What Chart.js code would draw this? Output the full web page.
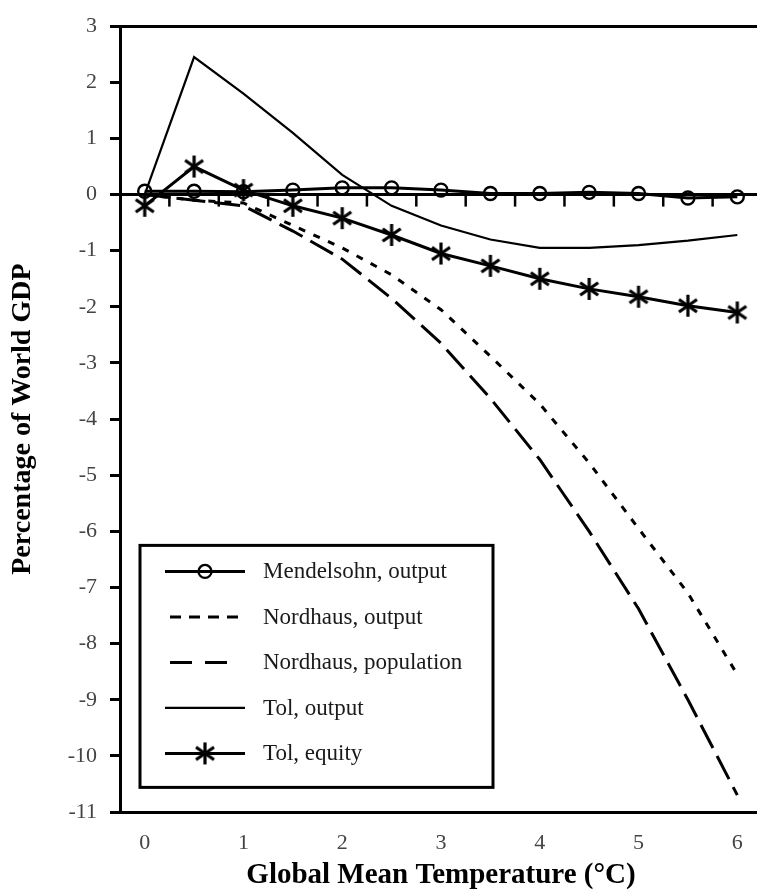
<!DOCTYPE html>
<html>
<head>
<meta charset="utf-8">
<script src="https://cdn.jsdelivr.net/npm/chart.js@4/dist/chart.umd.min.js"></script>
<style>
  html, body { margin: 0; padding: 0; background: #fff; overflow: hidden; }
  #wrap { width: 776px; height: 894px; }
</style>
</head>
<body>
<div id="wrap"><canvas id="c" width="776" height="894"></canvas></div>
<script>
// Warming levels (°C), one category every half degree
const temperatures = [0, 0.5, 1, 1.5, 2, 2.5, 3, 3.5, 4, 4.5, 5, 5.5, 6];

// Impact estimates, percentage of world GDP
const mendelsohnOutput = [0.06, 0.06, 0.05, 0.08, 0.12, 0.12, 0.08, 0.02, 0.02, 0.04, 0.02, -0.06, -0.04];
const nordhausOutput   = [0, -0.1, -0.15, -0.55, -0.95, -1.43, -2.05, -2.88, -3.73, -4.78, -5.95, -7.1, -8.55];
const nordhausPop      = [0, -0.1, -0.2, -0.65, -1.15, -1.85, -2.65, -3.63, -4.72, -6.0, -7.38, -9.0, -10.7];
const tolOutput        = [0, 2.45, 1.8, 1.1, 0.35, -0.2, -0.55, -0.8, -0.95, -0.95, -0.9, -0.82, -0.72];
const tolEquity        = [-0.2, 0.5, 0.08, -0.2, -0.42, -0.72, -1.05, -1.27, -1.5, -1.68, -1.82, -1.98, -2.1];

const seriesNames = ['Mendelsohn, output', 'Nordhaus, output', 'Nordhaus, population', 'Tol, output', 'Tol, equity'];
const yTicks = { min: -11, max: 3, step: 1 };

const SERIF = "'Liberation Serif', 'DejaVu Serif', serif";

// six-armed asterisk marker
function makeAsterisk(r, lw) {
  const s = Math.ceil(2 * r + lw + 2);
  const c = document.createElement('canvas');
  c.width = s; c.height = s;
  const g = c.getContext('2d');
  g.strokeStyle = '#000';
  g.lineWidth = lw;
  const cx = s / 2, cy = s / 2;
  [90, 35, 145].forEach(a => {
    const t = a * Math.PI / 180;
    g.beginPath();
    g.moveTo(cx - r * Math.cos(t), cy - r * Math.sin(t));
    g.lineTo(cx + r * Math.cos(t), cy + r * Math.sin(t));
    g.stroke();
  });
  return c;
}
const asterisk = makeAsterisk(11, 3.2);

const datasets = [
  {
    label: seriesNames[0], data: mendelsohnOutput,
    borderColor: '#000', borderWidth: 3,
    pointStyle: 'circle', pointRadius: 6.5, pointBorderWidth: 2.4,
    pointBorderColor: '#000', pointBackgroundColor: 'rgba(0,0,0,0)'
  },
  {
    label: seriesNames[1], data: nordhausOutput,
    borderColor: '#000', borderWidth: 3, borderDash: [7, 9], pointRadius: 0
  },
  {
    label: seriesNames[2], data: nordhausPop,
    borderColor: '#000', borderWidth: 3, borderDash: [26, 9], pointRadius: 0
  },
  {
    label: seriesNames[3], data: tolOutput,
    borderColor: '#000', borderWidth: 2.2, pointRadius: 0
  },
  {
    label: seriesNames[4], data: tolEquity,
    borderColor: '#000', borderWidth: 3,
    pointStyle: asterisk, pointRadius: 11
  }
];

// tick marks hanging below the zero line, between categories
const zeroAxisTicks = {
  id: 'zeroAxisTicks',
  beforeDatasetsDraw(chart) {
    const { ctx, scales: { x, y } } = chart;
    const y0 = y.getPixelForValue(0);
    ctx.save();
    ctx.strokeStyle = '#000';
    ctx.lineWidth = 2.5;
    for (let i = 0; i < temperatures.length - 1; i++) {
      const px = (x.getPixelForValue(i) + x.getPixelForValue(i + 1)) / 2;
      ctx.beginPath();
      ctx.moveTo(px, y0);
      ctx.lineTo(px, y0 + 12);
      ctx.stroke();
    }
    ctx.restore();
  }
};

// boxed legend inside the lower-left of the plot
const boxLegend = {
  id: 'boxLegend',
  afterDraw(chart) {
    const { ctx, scales: { x, y } } = chart;
    const left = x.left + 20, top = y.getPixelForValue(-6.25);
    const w = 353, h = 242;
    ctx.save();
    ctx.fillStyle = '#fff';
    ctx.fillRect(left, top, w, h);
    ctx.strokeStyle = '#000';
    ctx.lineWidth = 3;
    ctx.strokeRect(left, top, w, h);
    ctx.font = '23px ' + SERIF;
    ctx.textBaseline = 'middle';
    ctx.textAlign = 'left';
    chart.data.datasets.forEach((ds, i) => {
      const ry = top + 26 + i * 45.5;
      const x1 = left + 25, x2 = left + 105, xm = (x1 + x2) / 2;
      ctx.strokeStyle = '#000';
      ctx.lineWidth = ds.borderWidth;
      ctx.setLineDash(ds.borderDash ? (i === 1 ? [11, 8] : [22, 13]) : []);
      ctx.beginPath();
      ctx.moveTo(x1 + (ds.borderDash ? 5 : 0), ry);
      ctx.lineTo(x2 - (ds.borderDash ? 5 : 0), ry);
      ctx.stroke();
      ctx.setLineDash([]);
      if (ds.pointStyle === 'circle') {
        ctx.lineWidth = ds.pointBorderWidth;
        ctx.beginPath();
        ctx.arc(xm, ry, ds.pointRadius, 0, Math.PI * 2);
        ctx.stroke();
      } else if (ds.pointStyle instanceof HTMLCanvasElement) {
        ctx.drawImage(ds.pointStyle, xm - ds.pointStyle.width / 2, ry - ds.pointStyle.height / 2);
      }
      ctx.fillStyle = '#1a1a1a';
      ctx.fillText(ds.label, left + 123, ry + 1);
    });
    ctx.restore();
  }
};

new Chart(document.getElementById('c'), {
  type: 'line',
  data: { labels: temperatures.map(String), datasets },
  options: {
    responsive: false,
    animation: false,
    devicePixelRatio: 1,
    layout: { padding: { top: 22, right: 0, left: 0, bottom: 0 } },
    plugins: { legend: { display: false }, tooltip: { enabled: false } },
    elements: { line: { tension: 0, borderCapStyle: 'butt' } },
    scales: {
      x: {
        type: 'category',
        offset: true,
        afterFit(s) { s.height = 82; },
        grid: { display: true, drawOnChartArea: false, drawTicks: false, color: 'rgba(0,0,0,0)' },
        border: { display: true, color: '#000', width: 3 },
        ticks: {
          autoSkip: false, maxRotation: 0, padding: 18,
          color: '#444',
          font: { family: SERIF, size: 22 },
          callback(v) {
            const t = temperatures[v];
            return Number.isInteger(t) ? String(t) : '';
          }
        },
        title: {
          display: true, text: 'Global Mean Temperature (°C)',
          color: '#000', font: { family: SERIF, size: 29, weight: 'bold' },
          padding: { top: 2, bottom: 1 }
        }
      },
      y: {
        min: yTicks.min, max: yTicks.max,
        afterFit(s) { s.width = 120; },
        grid: {
          drawOnChartArea: true, drawTicks: true, tickLength: 10,
          color: c => (c.tick && (c.tick.value === 3 || c.tick.value === 0)) ? '#000' : 'rgba(0,0,0,0)',
          lineWidth: 3,
          tickColor: '#000', tickWidth: 3
        },
        border: { display: true, color: '#000', width: 3 },
        ticks: {
          stepSize: yTicks.step, padding: 13,
          color: '#444',
          font: { family: SERIF, size: 22 }
        },
        title: {
          display: true, text: 'Percentage of World GDP',
          color: '#000', font: { family: SERIF, size: 28, weight: 'bold' },
          padding: { top: 6, bottom: 8 }
        }
      }
    }
  },
  plugins: [zeroAxisTicks, boxLegend]
});
</script>
</body>
</html>
